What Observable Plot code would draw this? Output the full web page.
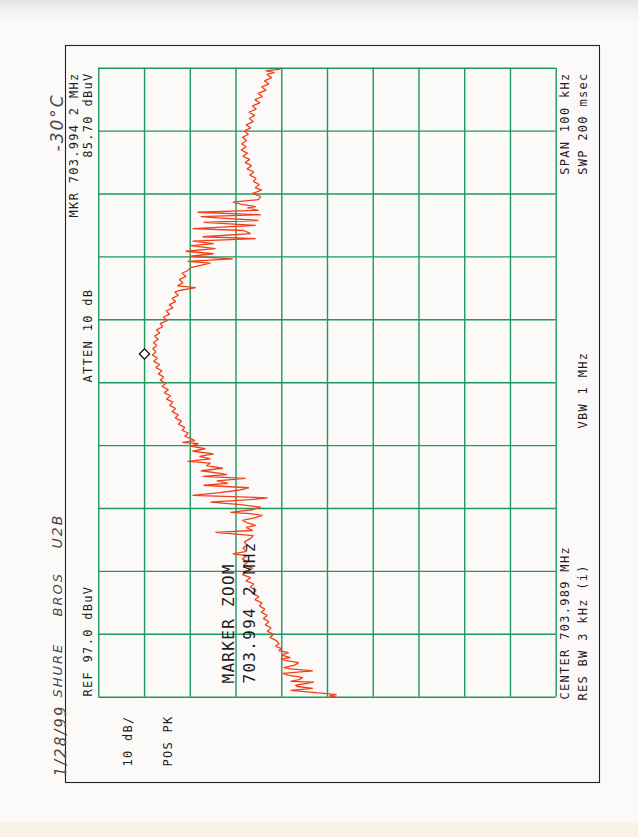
<!DOCTYPE html>
<html><head><meta charset="utf-8">
<script src="https://cdn.jsdelivr.net/npm/d3@7"></script>
<script src="https://cdn.jsdelivr.net/npm/@observablehq/plot@0.6"></script>
<style>
html,body{margin:0;padding:0;}
body{width:638px;height:837px;overflow:hidden;
  background:linear-gradient(to bottom,#e4e4e7 0px,#f3f2f4 12px,#fcf9f9 26px,#fcf9f9 820px,#f8f2e4 824px,#f8f2e4 837px);}
#chart svg{display:block;background:transparent;}
g[font-family="DejaVu Sans Mono"] text{letter-spacing:1.3px;}
g[font-style="italic"] text{letter-spacing:2px;}
</style></head><body><div id="chart"></div>
<script>
// ---- data (rotated spectrum-analyzer screen) ----
const CENTER_MHZ = 703.989;           // CENTER 703.989 MHz, SPAN 100 kHz
const offsetKHz = [
 -50.0,-49.8,-49.6,-49.4,-49.1,-48.9,-48.6,-48.3,-48.1,-47.8,-47.6,-47.5,-47.2,-46.9,-46.5,-46.2,-45.8,-45.5,-45.3,-44.9,-44.5,-44.2,-43.9,-43.7,-43.3,-42.9,-42.6,-42.3,-41.9,-41.5,
 -41.0,-40.5,-40.0,-39.5,-39.0,-38.5,-38.0,-37.5,-37.0,-36.5,-36.0,-35.5,-35.0,-34.5,-34.0,-33.5,-33.0,-32.5,-32.0,-31.5,-31.0,-30.5,-30.0,-29.5,-29.0,-28.5,-28.0,-27.5,-27.2,-26.8,-26.3,-25.8,-25.3,-24.8,-24.3,-23.8,
 -23.5,-23.0,-22.7,-22.3,-21.9,-21.5,-21.1,-20.8,-20.6,-20.2,-19.8,-19.4,-19.0,-18.6,-18.3,-17.9,-17.5,-17.1,-16.7,-16.3,-16.0,-15.6,-15.2,-14.9,-14.6,-14.4,-14.0,-13.6,-13.2,-12.8,-12.5,-12.1,-11.7,-11.3,-10.9,-10.5,-10.1,-9.7,-9.5,-9.2,-8.9,-8.5,
 -8.0,-7.6,-7.1,-6.6,-6.1,-5.6,-5.1,-4.6,-4.1,-3.6,-3.1,-2.6,-2.1,-1.6,-1.1,-0.6,-0.1,0.4,0.9,1.4,1.9,2.4,2.9,3.4,3.9,4.4,4.9,5.4,5.9,6.4,6.9,7.4,7.9,8.4,8.9,9.4,9.9,10.4,10.9,11.4,11.9,12.4,12.9,13.4,13.9,14.4,14.7,15.1,15.4,15.9,16.4,16.9,17.4,17.8,18.3,
 19.0,19.3,19.7,20.1,20.5,20.9,21.3,21.8,22.1,22.5,22.9,23.2,23.7,24.2,24.5,25.0,25.5,25.8,26.2,26.4,26.7,27.1,27.4,27.8,28.0,28.4,28.7,29.1,29.6,30.1,
 30.6,31.0,31.5,32.0,32.5,33.0,33.5,34.0,34.5,35.0,35.5,36.0,36.5,37.0,37.5,38.0,38.5,39.0,39.5,40.0,40.5,41.0,41.5,42.0,42.5,43.0,43.5,44.0,44.5,45.0,45.5,46.0,46.5,47.0,47.5,48.0,48.5,49.0,49.3,49.6,49.8,50.0];
const levelDbuv = [
 45.2,46.6,45.0,47.8,52.0,55.1,50.2,53.6,54.0,51.5,50.0,55.1,53.2,52.4,55.6,56.8,50.2,55.0,56.6,54.2,53.3,56.1,57.2,55.1,57.0,55.5,57.7,56.9,58.4,57.6,
 58.2,59.6,58.8,60.2,59.3,60.6,59.8,61.0,60.2,61.5,60.7,61.9,61.3,62.9,62.0,63.4,62.6,63.9,63.1,64.8,63.8,65.6,64.5,63.3,65.3,64.4,65.6,64.6,67.7,64.7,65.5,64.6,65.2,63.9,63.2,71.5,
 63.4,64.8,62.7,64.5,65.6,63.0,61.2,64.0,68.2,63.5,61.6,66.0,72.6,64.0,60.1,76.5,71.0,66.5,64.2,74.1,68.8,71.2,64.9,74.3,69.0,70.4,74.7,69.9,73.5,72.6,77.6,72.6,75.0,71.9,76.5,73.7,76.9,75.2,78.7,76.0,76.9,78.2,
 77.4,78.8,78.2,79.6,78.9,80.3,79.6,81.0,80.2,81.5,80.8,82.2,81.3,82.7,81.8,83.2,82.3,83.6,82.8,84.0,83.2,84.5,83.7,85.0,84.2,85.3,84.5,85.2,84.3,85.1,84.0,84.8,83.7,84.4,83.0,83.6,82.0,82.9,81.5,82.3,80.8,81.6,80.2,81.0,79.6,80.4,79.1,75.8,79.8,78.6,79.4,77.9,78.8,77.6,76.9,
 72.6,77.6,67.7,76.9,71.9,78.0,71.5,76.9,71.9,76.5,62.7,74.3,63.8,65.3,76.5,62.7,74.1,62.1,71.0,74.7,61.6,75.4,62.1,64.5,62.7,66.0,67.7,62.1,61.6,63.4,
 61.4,62.8,61.9,63.2,62.6,64.0,63.1,64.6,63.6,65.0,64.0,65.5,64.5,65.9,64.8,65.8,64.7,65.6,64.3,65.2,63.8,64.8,63.2,64.1,62.9,64.2,62.6,63.4,61.8,62.9,61.2,62.2,60.4,61.4,59.8,60.8,59.2,60.3,58.6,60.5,57.5,57.2];
const levelGrid = [97,87,77,67,57,47,37,27,17,7,-3];      // REF 97.0 dBuV, 10 dB/div
const freqGrid = [-50,-40,-30,-20,-10,0,10,20,30,40,50];  // 10 kHz/div
const markerMHz = [703.9942];
const markerDbuv = [85.70];
const refLabels = ["REF 97.0 dBuV", "ATTEN 10 dB", "MKR 703.994 2 MHz", "85.70 dBuV"];
const modeLabels = ["10 dB/", "POS PK"];
const zoomLabels = ["MARKER ZOOM", "703.994 2 MHz"];
const sweepLabels = ["CENTER 703.989 MHz", "RES BW 3 kHz (i)", "VBW 1 MHz", "SPAN 100 kHz", "SWP 200 msec"];
const handNotes = ["1/28/99", "SHURE", "BROS", "U2B", "-30°C"];

// ---- layout ----
const W = 638, H = 837;
const mL = 98.3, mT = 67.7, mR = W - 555.7, mB = H - 696.7;
const GREEN = "#1b9a5f", TRACE = "#f0401a", INK = "#1e1e1e", PEN = "#4a4a4a";

const trace = offsetKHz.map((k, i) => ({k, v: levelDbuv[i]}));
const marker = markerMHz.map((m, i) => ({k: (m - CENTER_MHZ) * 1000, v: markerDbuv[i]}));

// text placed in page pixels, rotated to read bottom-to-top like the scanned printout
const lbl = (s, px, py, anchor, o = {}) => Plot.text([s], {
  text: d => d, frameAnchor: "top-left", dx: px - mL, dy: py - mT,
  rotate: -90, textAnchor: anchor, lineAnchor: "middle",
  fontFamily: "DejaVu Sans Mono", fontSize: 12, fill: INK, ...o
});
const hand = (s, px, py, size) => lbl(s, px, py, "start",
  {fontFamily: "DejaVu Sans", fontStyle: "italic", fontWeight: 300, fontSize: size, fill: PEN});

const chart = Plot.plot({
  width: W, height: H,
  marginLeft: mL, marginTop: mT, marginRight: mR, marginBottom: mB,
  x: {domain: [97, -3], axis: null},
  y: {domain: [-50, 50], axis: null},
  style: {background: "transparent", overflow: "visible"},
  marks: [
    Plot.frame({stroke: "#222", strokeWidth: 1.1, insetLeft: -33.3, insetTop: -22.7, insetRight: -43.3, insetBottom: -85.3}),
    Plot.ruleX(levelGrid, {x: d => d, stroke: GREEN, strokeWidth: 1.4}),
    Plot.ruleY(freqGrid, {y: d => d, stroke: GREEN, strokeWidth: 1.4}),
    Plot.line(trace, {x: "v", y: "k", stroke: TRACE, strokeWidth: 1.3, strokeLinejoin: "miter"}),
    Plot.dot(marker, {x: "v", y: "k", symbol: "diamond2", r: 4.6, stroke: "#111", strokeWidth: 1.3, fill: "#fff", dx: -6, dy: 4}),
    lbl(refLabels[0], 88, 696, "start"),
    lbl(refLabels[1], 88, 382, "start"),
    lbl(refLabels[2], 74, 72, "end"),
    lbl(refLabels[3], 87.5, 72, "end"),
    lbl(modeLabels[0], 128, 766, "start"),
    lbl(modeLabels[1], 168, 766, "start"),
    lbl(zoomLabels[0], 228, 683, "start", {fontSize: 16}),
    lbl(zoomLabels[1], 249, 683, "start", {fontSize: 16}),
    lbl(sweepLabels[0], 564.5, 699, "start"),
    lbl(sweepLabels[1], 582.5, 700, "start"),
    lbl(sweepLabels[2], 582.5, 428, "start"),
    lbl(sweepLabels[3], 564.5, 72, "end"),
    lbl(sweepLabels[4], 582.5, 72, "end"),
    hand(handNotes[0], 61, 776, 15),
    hand(handNotes[1], 57, 697, 13),
    hand(handNotes[2], 57, 616, 13),
    hand(handNotes[3], 57, 548, 14),
    hand(handNotes[4], 57, 151, 17)
  ]
});
document.getElementById("chart").append(chart);
</script>
</body></html>
